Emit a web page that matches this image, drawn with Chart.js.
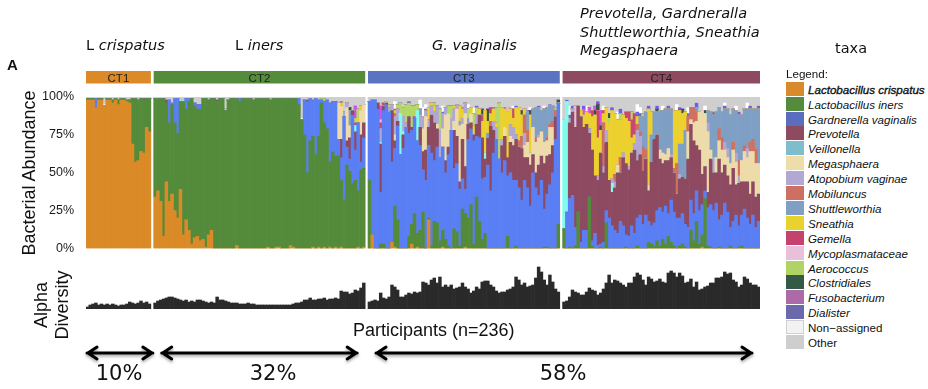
<!DOCTYPE html>
<html>
<head>
<meta charset="utf-8">
<script src="https://cdn.jsdelivr.net/npm/chart.js"></script>
<style>
  html, body { margin: 0; padding: 0; background: #fff; }
  #page { position: relative; width: 928px; height: 389px; overflow: hidden; background: #fff;
          font-family: 'Liberation Sans', Arial, sans-serif; color: #111; }
  canvas { position: absolute; left: 0; }
  .t { position: absolute; white-space: nowrap; }
  .vd { font-family: 'DejaVu Sans', Verdana, sans-serif; font-size: 14.5px; line-height: 14.5px; }
  .ar { font-family: 'Liberation Sans', Arial, sans-serif; font-size: 18px; line-height: 18px; }
  .rot { transform: translate(-50%, -50%) rotate(-90deg); text-align: center; }
  .pct { font-family: 'DejaVu Sans', Verdana, sans-serif; font-size: 21px; line-height: 21px; transform: translateX(-50%); }
  .lg { position: absolute; left: 786px; height: 15px; font-size: 11.6px; line-height: 15px; white-space: nowrap; }
  .lg span.sw { position: absolute; left: 0; top: 0; width: 18px; height: 14px; box-sizing: border-box; }
  .lg span.nm { position: absolute; left: 22px; top: 0; }
</style>
</head>
<body>
<div id="page">
  <canvas id="abundance" width="780" height="268" style="top:0"></canvas>
  <canvas id="alpha" width="780" height="134" style="top:255px"></canvas>

  <div class="t" style="left:7px;top:57px;font:bold 15px/15px 'Liberation Sans',Arial">A</div>
  <div class="t vd" style="left:86px;top:38px">L <i>crispatus</i></div>
  <div class="t vd" style="left:235px;top:38px">L <i>iners</i></div>
  <div class="t vd" style="left:432px;top:38px"><i>G. vaginalis</i></div>
  <div class="t vd" style="left:580px;top:6px"><i>Prevotella, Gardneralla</i></div>
  <div class="t vd" style="left:580px;top:25px"><i>Shuttleworthia, Sneathia</i></div>
  <div class="t vd" style="left:580px;top:43px"><i>Megasphaera</i></div>
  <div class="t vd" style="left:835px;top:41px">taxa</div>

  <div class="t ar rot" style="left:29px;top:173px">Bacterial Abundance</div>
  <div class="t ar rot" style="left:52px;top:305px;line-height:21px">Alpha<br>Diversity</div>
  <div class="t ar" style="left:353px;top:321px">Participants (n=236)</div>

  <div class="t pct" style="left:119px;top:363px">10%</div>
  <div class="t pct" style="left:273px;top:363px">32%</div>
  <div class="t pct" style="left:563px;top:363px">58%</div>

  <div class="t" style="left:786px;top:68px;font-size:11.6px;line-height:11.6px">Legend:</div>
  <div id="legend"></div>
</div>

<script>
// clusters (community types), left to right
const clusterNames = ['CT1', 'CT2', 'CT3', 'CT4'];
const clusterSizes = [23, 75, 68, 70];
const clusterColors = ['#DB8A27', '#548C3B', '#5B74C2', '#8E4A5F'];
const yTicks = [0, 25, 50, 75, 100];

// taxa, bottom of the stack first
const taxaNames = ['Lactobacillus crispatus', 'Lactobacillus iners', 'Gardnerella vaginalis', 'Prevotella',
  'Veillonella', 'Megasphaera', 'Atopobium vaginae', 'Mobiluncus', 'Shuttleworthia', 'Sneathia', 'Gemella',
  'Mycoplasmataceae', 'Aerococcus', 'Clostridiales', 'Fusobacterium', 'Dialister', 'Non\u2212assigned', 'Other'];
const barColors = ['#DA8A26', '#548B3B', '#5A7EF4', '#8E4A60', '#80FCEA', '#EEDBAA', '#B0A8D2', '#D0715F',
  '#7F9FC4', '#ECD12E', '#C84870', '#E7BCD9', '#B4D868', '#2E5744', '#D64FE9', '#6C5FE6', '#FFFFFF', '#CFCFCF'];
const legendColors = ['#D98A2A', '#538C3C', '#5A6DBE', '#8E4A5E', '#7FBDCC', '#EEDCAB', '#B1A9D3', '#CE6F63',
  '#7F9FC4', '#E9D130', '#C5426F', '#E9C0DA', '#B1D264', '#345947', '#AD6AA9', '#6C68AC', '#F2F2F2', '#CECECE'];

// relative abundance (%) per participant; rows: CT1 | CT2 | CT3 | CT4
const crispatus = [
  98,98,98,93,98,98,94,98,98,96, 98,95,98,98,97,96,69,57,58,64, 63,80,77,
  34,38,31,8,44,31,36,25,20,39, 9,19,12,3,7,8,5,6,1,9, 12,0,0,0,0,0,0,0,0,2, 0,0,0,0,0,0,0,0,0,0, 1,0,0,1,1,0,0,0,2,1, 0,0,0,0,0,0,1,0,1,0, 1,0,1,0,1,0,1,0,0,0, 0,0,1,0,1,
  0,9,0,0,0,0,0,0,4,1, 0,0,0,0,0,3,0,1,0,0, 0,19,0,0,0,0,1,0,0,0, 0,0,0,0,1,0,0,0,0,0, 0,0,0,0,0,0,0,0,0,0, 0,0,0,0,0,0,0,0,0,0, 0,0,0,0,0,0,0,0,
  0,0,0,0,0,0,0,0,0,0, 0,0,0,0,0,0,0,0,0,0, 0,0,0,0,0,0,0,0,0,0, 0,0,0,0,0,0,0,0,0,0, 0,0,0,0,0,0,0,0,0,1, 0,0,0,0,0,0,0,0,0,0, 0,0,0,0,0,0,0,0,0,0
];
const iners = [
  1,1,1,0,1,1,0,1,1,2, 1,3,1,1,1,2,30,42,40,35, 35,19,22,
  65,61,68,91,52,52,59,58,56,58, 88,73,85,96,87,84,87,93,98,89, 87,99,97,99,99,91,98,99,99,97, 97,99,99,99,99,98,99,99,99,99, 98,98,99,98,98,99,99,99,97,98, 99,95,85,75,50,71,73,62,73,96, 82,79,56,64,60,61,44,32,55,51, 43,45,37,52,52,
  45,0,0,0,3,3,0,0,0,27, 19,0,0,0,8,13,23,9,12,24, 0,1,2,18,17,5,11,6,2,0, 13,11,2,26,22,20,29,3,34,18, 6,10,0,0,0,0,0,0,0,8, 0,0,2,0,0,0,0,0,0,0, 0,0,1,1,0,0,0,16,
  13,0,1,0,2,24,0,0,0,34, 2,0,0,1,0,17,0,0,0,0, 0,0,1,0,0,0,2,0,0,0, 4,3,2,5,2,6,3,8,4,2, 0,2,3,1,0,12,5,18,3,8, 33,2,1,0,0,1,0,0,0,2, 0,0,1,2,0,0,0,0,0,0
];
const gardnerella = [
  0,0,0,6,0,0,0,0,0,0, 0,0,0,0,0,0,0,0,0,0, 0,0,0,
  0,0,0,0,0,15,1,16,23,0, 0,7,2,0,2,3,3,0,0,0, 0,0,0,0,0,0,0,0,0,0, 2,0,0,0,0,0,0,0,0,0, 0,0,0,0,0,0,0,0,0,0, 0,4,0,23,47,28,24,37,24,2, 14,19,39,33,36,11,15,55,12,8, 45,20,45,5,20,
  52,89,98,92,34,88,95,90,53,38, 62,62,66,80,68,62,63,61,56,28, 45,48,61,40,50,55,55,44,60,78, 40,45,37,20,16,52,50,68,40,55, 40,37,55,38,63,72,59,50,58,40, 50,45,43,40,32,45,40,28,50,40, 35,45,25,35,42,50,72,80,
  0,24,32,35,12,0,4,12,12,0, 3,10,2,2,4,8,20,15,12,10, 18,15,8,8,15,10,18,22,16,22, 14,12,15,20,25,18,25,15,28,22, 20,18,20,15,14,20,18,20,22,20, 5,25,28,25,30,18,22,30,24,12, 18,22,14,20,26,20,16,22,14,18
];
const prevotella = [
  0,0,0,0,0,0,0,0,0,0, 0,0,0,0,0,0,0,0,0,0, 1,0,0,
  0,0,0,0,2,0,0,0,0,0, 0,0,0,0,0,0,0,0,0,0, 0,0,1,0,0,0,0,0,0,0, 0,0,0,0,0,0,0,0,0,0, 0,0,0,0,0,0,0,0,0,0, 0,0,0,0,1,0,0,0,0,0, 0,0,0,0,0,0,12,0,4,14, 3,12,0,18,10,
  0,0,0,4,32,3,1,0,34,5, 3,0,9,0,11,2,0,0,12,12, 20,12,25,25,12,0,0,8,5,0, 25,18,5,26,15,10,4,4,8,15, 27,12,18,43,15,0,0,18,16,12, 20,23,27,27,34,15,20,27,12,10, 20,16,30,25,20,18,15,0,
  0,0,50,55,66,70,83,68,70,42, 60,38,43,60,46,45,25,22,28,40, 32,45,47,44,48,55,38,40,35,37, 20,42,55,50,32,32,30,35,28,26, 16,26,24,30,45,50,48,30,40,20, 16,10,30,25,20,40,28,25,24,28, 35,20,28,22,18,24,20,22,20,18
];
const veillonella = [
  0,0,0,0,0,0,0,0,0,0, 0,0,0,0,0,0,0,0,0,0, 0,0,0,
  0,0,0,0,0,0,0,0,0,0, 1,0,0,0,0,0,0,0,0,0, 0,0,0,0,0,0,0,0,0,0, 0,0,0,0,0,0,0,0,0,0, 0,0,0,0,0,0,0,0,0,0, 0,0,0,0,0,0,0,0,0,0, 0,0,0,0,0,0,0,0,0,0, 0,4,0,0,0,
  0,0,0,0,1,0,0,0,0,0, 0,27,2,0,0,0,0,20,0,0, 0,0,0,0,0,0,0,0,0,0, 0,0,0,0,0,0,0,0,0,0, 0,4,0,0,0,0,0,0,0,0, 0,0,0,0,0,0,0,0,0,0, 0,0,0,0,0,0,0,0,
  72,73,0,0,0,0,0,0,0,0, 0,0,0,0,0,0,0,6,0,0, 0,0,0,0,0,0,0,0,0,0, 0,0,0,0,0,0,0,0,0,0, 0,0,0,0,0,0,0,0,0,0, 0,0,0,0,0,0,0,0,0,0, 0,0,0,0,0,0,0,0,0,0
];
const megasphaera = [
  0,0,0,0,0,0,0,0,0,0, 0,0,0,0,0,0,0,0,0,0, 0,0,0,
  0,0,0,0,0,0,0,0,0,0, 0,0,0,0,0,0,0,0,0,0, 0,0,0,0,0,0,0,0,0,0, 0,0,0,0,0,0,0,0,0,0, 0,0,0,0,0,0,0,0,0,0, 0,0,0,0,0,0,0,0,0,0, 0,0,0,0,0,24,22,0,22,8, 0,0,0,16,12,
  0,0,0,0,0,0,0,0,0,4, 0,0,0,0,0,0,0,0,0,15, 22,0,0,0,3,0,12,30,22,0, 6,18,37,10,35,0,6,0,0,0, 0,0,0,0,0,0,0,0,6,0, 4,4,0,0,0,8,10,8,18,20, 18,16,14,10,18,12,0,0,
  0,0,0,0,0,0,0,0,0,0, 0,0,0,0,0,0,0,0,0,5, 0,0,0,0,0,0,0,0,0,0, 4,0,0,0,6,7,4,8,0,0, 0,0,0,0,18,3,12,16,25,42, 35,40,6,0,10,12,15,10,12,14, 12,15,0,14,20,16,28,20,22,20
];
const atopobium = [
  0,0,0,0,0,0,0,0,0,0, 0,0,0,0,0,0,0,0,0,0, 0,0,0,
  0,0,0,0,0,0,0,0,0,0, 0,0,0,0,0,0,0,0,0,0, 0,0,0,0,0,0,0,0,0,0, 0,0,0,0,0,0,0,0,0,0, 0,0,0,0,0,0,0,0,0,0, 0,0,0,0,0,0,0,0,0,0, 0,0,0,0,0,0,0,3,3,0, 0,0,0,0,0,
  0,0,0,0,9,0,0,3,4,12, 8,0,10,3,0,0,0,0,8,8, 4,5,6,7,12,18,10,5,0,8, 8,3,0,4,7,0,0,0,6,0, 0,0,0,0,6,8,0,4,0,0, 8,8,3,0,0,8,0,0,0,0, 2,0,0,0,0,0,0,0,
  0,0,3,2,0,0,0,0,0,3, 0,0,3,0,4,8,0,3,4,0, 0,3,0,2,0,4,20,12,0,0, 0,0,0,0,0,0,0,0,2,0, 0,3,0,0,0,0,0,0,0,0, 0,6,0,10,0,0,0,5,6,0, 0,6,5,0,0,6,0,0,0,0
];
const mobiluncus = [
  0,0,0,0,0,0,0,0,0,0, 0,0,0,0,0,0,0,0,0,0, 0,0,0,
  0,0,0,0,0,0,0,0,0,0, 0,0,0,0,0,0,0,0,0,0, 0,0,0,0,0,0,0,0,0,0, 0,0,0,0,0,0,0,0,0,0, 0,0,0,0,0,0,0,0,0,0, 0,0,0,0,0,0,0,0,0,0, 0,0,0,0,0,0,0,0,0,0, 0,0,0,0,0,
  0,0,0,0,0,0,0,0,0,2, 0,0,0,0,0,0,0,0,0,0, 0,0,0,0,0,0,0,0,0,0, 0,0,0,0,0,0,0,0,0,0, 0,0,0,3,0,0,0,0,0,0, 0,0,0,4,8,12,8,0,0,3, 0,0,0,2,2,4,4,0,
  0,0,0,0,0,0,0,0,0,0, 0,0,0,0,29,0,0,0,5,0, 10,0,0,0,0,0,4,3,16,6, 0,0,0,0,0,0,0,0,0,3, 20,0,0,0,10,8,10,6,0,0, 0,0,0,0,0,8,8,0,0,0, 5,0,10,0,4,0,6,8,10,0
];
const shuttleworthia = [
  0,0,0,0,0,0,0,0,0,0, 0,0,0,0,0,0,0,0,0,0, 0,0,0,
  0,0,0,0,0,0,0,0,0,0, 0,0,0,0,0,0,0,0,0,0, 0,0,0,0,0,0,0,0,0,0, 0,0,0,0,0,0,0,0,0,0, 0,0,0,0,0,0,0,0,0,0, 0,0,0,0,0,0,0,0,0,0, 0,0,0,0,0,0,0,0,0,10, 0,0,0,0,0,
  0,0,0,0,0,0,0,0,0,0, 0,0,0,0,0,0,0,0,4,0, 0,0,0,0,0,0,0,0,0,0, 0,0,3,0,0,4,0,0,0,0, 0,0,3,0,0,0,0,0,0,0, 0,0,0,0,0,0,12,0,12,20, 18,14,22,20,12,10,0,0,
  0,0,0,0,0,0,0,0,0,0, 0,0,0,0,0,0,0,0,0,0, 0,0,0,0,0,0,0,10,20,25, 0,18,18,15,26,28,30,26,30,0, 0,20,22,32,0,0,0,3,0,0, 0,8,25,28,30,14,17,22,26,32, 22,28,30,30,24,26,22,20,26,36
];
const sneathia = [
  0,0,0,0,0,0,0,0,0,0, 0,0,0,0,0,0,0,0,0,0, 0,0,0,
  0,0,0,0,0,0,0,0,0,0, 0,0,0,0,0,0,0,0,0,0, 0,0,0,0,0,0,0,0,0,0, 0,0,0,0,0,0,0,0,0,0, 0,0,0,0,0,0,0,0,0,0, 0,0,0,0,0,0,0,0,0,0, 0,0,0,0,0,0,2,0,0,0, 0,0,3,3,0,
  0,0,0,0,0,0,1,0,0,2, 0,0,0,0,0,0,0,0,0,0, 0,8,2,4,0,0,0,0,0,0, 2,0,10,6,0,0,4,6,0,4, 11,28,8,5,8,3,0,21,12,30, 10,6,18,22,14,4,0,25,0,0, 0,0,0,0,0,0,0,0,
  0,0,0,0,0,0,4,8,8,10, 22,40,25,15,6,15,37,45,40,30, 25,25,30,30,10,6,5,0,0,0, 50,15,0,0,0,0,0,0,0,38, 35,22,20,12,0,0,0,0,0,0, 0,0,0,0,0,0,0,0,0,0, 0,0,0,0,0,0,0,0,0,0
];
const gemella = [
  0,0,0,0,0,0,0,0,0,0, 0,0,0,0,0,0,0,0,0,0, 0,0,0,
  0,0,0,0,0,0,0,0,0,0, 0,0,0,0,0,0,0,0,0,0, 0,0,0,0,0,0,0,0,0,0, 0,0,0,0,0,0,0,0,0,0, 0,0,0,0,0,0,0,0,0,0, 0,0,0,0,0,0,0,0,0,0, 0,0,0,0,0,0,0,0,0,0, 0,2,0,0,0,
  0,0,0,0,4,2,0,0,0,0, 0,0,0,0,0,0,1,0,0,0, 0,0,0,0,0,0,0,0,0,0, 0,0,0,0,0,0,0,0,0,0, 4,0,0,4,0,0,0,0,0,0, 0,6,0,0,0,0,0,0,0,0, 0,0,0,0,0,0,0,0,
  0,0,0,0,0,0,0,0,0,0, 4,0,18,0,2,0,0,0,0,0, 0,0,4,6,12,14,0,0,0,0, 0,0,0,0,0,0,0,0,0,0, 0,0,0,0,0,0,0,0,0,0, 0,0,0,0,0,0,0,0,0,0, 0,0,0,0,0,0,0,0,0,0
];
const mycoplasma = [
  0,0,0,0,0,0,0,0,0,0, 0,0,0,0,0,0,0,0,0,0, 0,0,0,
  0,0,0,0,0,0,0,0,0,0, 0,0,0,0,0,0,0,0,0,0, 0,0,0,0,0,1,0,0,0,0, 0,0,0,0,0,0,0,0,0,0, 0,0,0,0,0,0,0,0,0,0, 0,0,0,0,0,0,0,0,0,0, 0,0,0,0,0,0,0,0,0,0, 0,0,0,0,0,
  0,0,0,0,2,0,0,0,0,0, 0,0,0,0,0,0,0,0,0,0, 0,0,0,0,0,0,0,0,0,0, 0,0,0,0,0,0,0,0,0,0, 0,0,0,0,0,0,0,0,0,3, 0,0,0,0,0,0,0,0,0,0, 0,0,0,0,0,0,0,0,
  0,0,0,0,14,0,0,0,0,0, 0,0,0,0,0,0,0,0,0,0, 0,0,0,0,0,0,0,0,0,0, 0,0,0,0,0,0,0,0,0,0, 0,0,0,0,0,0,0,0,0,0, 0,0,0,0,0,0,0,0,0,0, 0,0,0,0,0,0,0,0,0,0
];
const aerococcus = [
  0,0,0,0,0,0,0,0,0,0, 0,0,0,0,0,0,0,0,0,0, 0,0,0,
  0,0,0,0,0,0,0,0,0,0, 0,0,0,0,0,0,0,0,0,0, 0,0,0,0,0,0,0,0,0,0, 0,0,0,0,0,0,0,0,0,0, 0,0,0,0,0,0,0,0,0,0, 0,0,0,0,0,0,0,0,0,1, 2,0,0,0,0,0,0,0,0,0, 0,3,6,0,0,
  0,0,0,0,0,0,0,2,0,0, 3,7,6,12,9,14,7,4,0,0, 0,0,0,2,0,14,0,0,5,8, 0,0,0,0,0,6,0,8,5,0, 0,0,0,0,0,10,37,0,0,0, 0,0,0,0,0,0,0,0,0,0, 0,0,0,0,0,0,2,0,
  0,0,0,0,0,0,0,0,0,0, 0,0,0,0,0,0,4,0,0,0, 4,0,0,0,5,0,0,0,2,0, 0,0,0,0,0,0,0,0,0,0, 0,0,0,0,0,0,0,0,0,0, 0,0,0,0,0,0,0,0,0,0, 0,0,0,0,0,0,0,0,0,0
];
const clostridiales = [
  0,0,0,0,0,0,0,0,0,0, 0,0,0,0,0,0,0,0,0,0, 0,0,0,
  0,0,0,0,0,0,0,0,0,0, 0,0,0,0,0,0,0,0,0,0, 0,0,0,0,0,0,0,0,0,0, 0,0,0,0,0,0,0,0,0,0, 0,0,0,0,0,0,0,0,0,0, 0,0,0,0,0,0,0,0,0,0, 0,0,0,0,0,0,0,0,0,2, 0,0,0,0,0,
  0,0,0,0,0,0,0,0,0,0, 0,0,0,0,0,0,0,0,0,0, 0,0,0,0,0,0,0,0,0,0, 0,0,0,0,0,0,0,0,0,0, 4,0,8,0,0,0,0,0,0,0, 0,0,0,0,3,0,0,3,0,0, 0,0,0,0,0,0,0,2,
  0,0,0,0,0,0,0,0,0,0, 0,3,4,3,0,0,3,0,0,0, 0,0,0,0,0,0,0,0,0,0, 0,0,0,2,0,0,0,0,0,0, 0,0,3,0,0,0,0,0,0,0, 2,0,0,0,0,0,0,0,0,0, 0,0,0,0,0,0,0,0,0,0
];
const fusobacterium = [
  0,0,0,0,0,0,0,0,0,0, 0,0,0,0,0,0,0,0,0,0, 0,0,0,
  0,0,0,0,0,0,0,0,0,0, 0,0,0,0,0,0,0,0,0,0, 0,0,0,0,0,0,0,0,0,0, 0,0,0,0,0,0,0,0,0,0, 0,0,0,0,0,0,0,0,0,0, 0,0,0,0,0,0,0,0,0,0, 0,0,0,0,0,0,0,0,0,0, 0,8,0,0,0,
  0,0,0,0,9,0,0,0,0,0, 0,0,0,0,0,0,0,0,0,0, 0,0,0,0,0,0,0,0,0,0, 0,0,0,0,0,0,0,0,0,0, 0,0,0,0,0,0,0,0,0,0, 0,0,0,0,0,0,0,0,0,0, 0,0,0,0,0,0,0,0,
  0,0,0,0,0,0,0,4,0,4, 0,3,0,10,0,0,0,0,0,0, 0,0,0,0,0,0,0,0,0,0, 0,0,0,0,0,0,0,0,0,0, 0,0,0,0,0,0,0,0,0,0, 0,0,0,0,0,0,0,0,0,0, 0,0,0,0,0,0,0,0,0,0
];
const dialister = [
  0,0,0,0,0,0,0,0,0,0, 0,0,0,0,0,0,0,0,0,0, 0,0,0,
  0,0,0,0,0,0,0,0,0,0, 0,0,0,0,0,0,0,0,0,0, 0,0,0,0,0,0,0,0,0,0, 0,0,0,0,0,0,0,0,0,0, 0,0,0,0,0,0,0,0,0,0, 0,0,0,0,0,0,0,0,0,0, 0,0,0,0,0,0,1,0,0,0, 0,0,0,0,0,
  0,0,0,0,0,0,0,0,0,1, 0,0,0,0,1,0,0,0,0,0, 1,0,0,0,0,0,1,0,0,0, 0,0,0,1,0,0,0,0,1,0, 0,0,0,0,1,0,0,0,1,0, 0,0,1,0,0,0,1,0,0,0, 1,0,0,0,1,0,0,0,
  0,1,2,2,0,0,0,2,0,0, 0,0,2,0,0,0,0,2,0,0, 3,0,0,0,0,0,3,2,0,0, 2,0,0,2,0,0,0,2,0,0, 0,2,0,0,2,0,0,3,0,0, 0,0,0,2,0,0,0,2,0,0, 0,0,2,0,0,0,2,0,0,2
];
const nonAssigned = [
  0,0,0,0,0,0,1,0,0,0, 0,0,0,0,0,0,0,0,0,0, 0,0,0,
  0,0,0,0,0,0,0,0,0,0, 0,0,0,0,0,0,0,0,0,0, 0,0,0,0,0,0,0,0,0,0, 0,0,0,0,0,0,0,0,0,0, 0,0,0,0,0,0,0,0,0,0, 0,0,1,0,0,0,0,0,0,0, 0,0,0,0,0,0,0,0,0,0, 0,0,0,0,0,
  0,0,0,0,0,0,0,0,0,5, 0,0,0,0,0,0,0,0,6,6, 3,0,0,0,0,0,4,0,0,0, 0,0,0,0,0,3,0,4,0,0, 0,0,0,0,0,0,0,0,0,0, 0,2,0,0,0,0,0,2,0,0, 0,0,2,0,0,0,0,0,
  0,0,6,0,0,0,0,0,4,0, 0,0,0,0,3,0,0,0,0,5, 0,0,0,0,0,0,5,4,0,0, 0,0,0,0,0,3,0,0,0,0, 4,0,0,0,4,0,0,0,0,0, 3,0,0,0,0,0,0,2,0,0, 0,3,0,0,0,4,0,0,0,0
];

// alpha diversity per participant (arbitrary units, bar heights)
const alphaDiversity = [
  2,4,5,6,4,5,4,5,4,5, 4,3,4,4,5,7,6,5,6,8, 6,7,5,
  6,8,9,10,11,12,12,11,10,9, 8,9,7,8,7,9,9,8,7,6, 7,6,12,9,9,8,7,6,6,6, 5,5,5,6,5,5,4,4,4,4, 4,4,4,4,4,4,4,4,4,5, 6,6,7,9,9,11,9,9,10,10, 11,9,10,10,11,10,18,17,17,15, 16,19,18,21,26,
  7,8,9,8,16,11,10,12,24,22, 19,12,12,14,16,15,17,16,17,27, 26,24,29,31,26,32,22,24,22,24, 20,21,22,26,22,20,16,18,22,20, 27,28,28,24,22,18,16,17,17,19, 20,22,32,29,24,26,22,23,24,31, 42,37,29,24,34,27,20,17,
  7,8,12,19,17,16,14,14,17,21, 19,18,14,16,20,26,34,26,29,28, 26,24,22,26,26,32,36,34,29,24, 32,30,27,28,30,27,26,36,38,36, 32,36,33,26,27,30,22,27,19,20, 22,23,26,26,31,31,32,37,35,36, 29,27,22,24,32,30,26,24,24,22
];

const shareLabels = ['10%', '32%', '58%'];

// ---- build tables for the library ----
const measured = [crispatus, iners, gardnerella, prevotella, veillonella, megasphaera, atopobium, mobiluncus,
  shuttleworthia, sneathia, gemella, mycoplasma, aerococcus, clostridiales, fusobacterium, dialister, nonAssigned];
const total = clusterSizes.reduce((a, b) => a + b, 0);
measured.concat([alphaDiversity]).forEach((arr, i) => {
  if (arr.length !== total) throw new Error('series ' + i + ' has ' + arr.length + ' values, expected ' + total);
});

// remainder at the top of each bar is "Other"
const other = crispatus.map((_, p) => Math.max(0, 100 - measured.reduce((s, arr) => s + arr[p], 0)));
const series = measured.concat([other]);

const participants = [];
clusterSizes.forEach((n, c) => {
  for (let i = 0; i < n; i++) participants.push(clusterNames[c] + '-' + (i + 1));
});

// a blank slot between clusters
function withGaps(values) {
  const out = [];
  let k = 0;
  clusterSizes.forEach((n, c) => {
    if (c > 0) out.push(null);
    for (let i = 0; i < n; i++) out.push(values[k++]);
  });
  return out;
}
const labels = withGaps(participants).map(l => l || '');

function clusterRange(c) {
  let start = 0;
  for (let i = 0; i < c; i++) start += clusterSizes[i] + 1;
  return [start, start + clusterSizes[c] - 1];
}
function edges(x, c) {
  const half = (x.getPixelForValue(1) - x.getPixelForValue(0)) / 2;
  const [a, b] = clusterRange(c);
  return [x.getPixelForValue(a) - half, x.getPixelForValue(b) + half];
}

// ---- CT header strip ----
const clusterHeader = {
  id: 'clusterHeader',
  afterDraw(chart) {
    const { ctx, scales: { x } } = chart;
    ctx.save();
    clusterNames.forEach((name, c) => {
      const [l, r] = edges(x, c);
      ctx.fillStyle = clusterColors[c];
      ctx.fillRect(l, 71, r - l, 12.5);
      ctx.fillStyle = '#222';
      ctx.font = '11.5px "Liberation Sans", Arial, sans-serif';
      ctx.textAlign = 'center';
      ctx.textBaseline = 'alphabetic';
      ctx.fillText(name, (l + r) / 2, 81.5);
    });
    ctx.restore();
  }
};

new Chart(document.getElementById('abundance'), {
  type: 'bar',
  data: {
    labels: labels,
    datasets: series.map((vals, i) => ({
      label: taxaNames[i],
      data: withGaps(vals),
      backgroundColor: barColors[i],
      borderWidth: 0,
      barPercentage: 1,
      categoryPercentage: 1
    }))
  },
  options: {
    responsive: false,
    animation: false,
    devicePixelRatio: 1,
    layout: { padding: { top: 97, right: 20, bottom: 10, left: 0 } },
    plugins: { legend: { display: false }, tooltip: { enabled: false } },
    scales: {
      x: { stacked: true, display: false },
      y: {
        stacked: true, min: 0, max: 100,
        afterFit: s => { s.width = 86; },
        afterBuildTicks: s => { s.ticks = yTicks.map(v => ({ value: v })); },
        grid: { display: false, drawTicks: false },
        border: { display: false },
        ticks: {
          padding: 12, color: '#1a1a1a',
          font: { family: '"Liberation Sans", Arial, sans-serif', size: 12.5 },
          callback: v => v + '%'
        }
      }
    }
  },
  plugins: [clusterHeader]
});

// ---- arrows under the participants axis ----
const arrowSpans = [[0, 0, 1, -2], [1, 1, 8, 8], [2, 3, 8, 8]];
const shareArrows = {
  id: 'shareArrows',
  afterDraw(chart) {
    const { ctx, scales: { x } } = chart;
    const y = 98;
    ctx.save();
    ctx.strokeStyle = '#000';
    ctx.lineWidth = 3;
    ctx.lineCap = 'round';
    ctx.lineJoin = 'round';
    ctx.shadowColor = 'rgba(0,0,0,0.35)';
    ctx.shadowBlur = 3;
    ctx.shadowOffsetY = 2;
    arrowSpans.forEach(([c1, c2, in1, in2]) => {
      const x1 = edges(x, c1)[0] + in1;
      const x2 = edges(x, c2)[1] - in2;
      ctx.beginPath();
      ctx.moveTo(x1, y); ctx.lineTo(x2, y);
      ctx.moveTo(x1 + 10, y - 6); ctx.lineTo(x1 + 1, y); ctx.lineTo(x1 + 10, y + 6);
      ctx.moveTo(x2 - 10, y - 6); ctx.lineTo(x2 - 1, y); ctx.lineTo(x2 - 10, y + 6);
      ctx.stroke();
    });
    ctx.restore();
  }
};

new Chart(document.getElementById('alpha'), {
  type: 'bar',
  data: {
    labels: labels,
    datasets: [{
      label: 'Alpha Diversity',
      data: withGaps(alphaDiversity),
      backgroundColor: '#2A2A2A',
      borderWidth: 0,
      barPercentage: 1,
      categoryPercentage: 1
    }]
  },
  options: {
    responsive: false,
    animation: false,
    devicePixelRatio: 1,
    layout: { padding: { top: 8, right: 20, bottom: 80, left: 86 } },
    plugins: { legend: { display: false }, tooltip: { enabled: false } },
    scales: {
      x: { display: false },
      y: { display: false, min: 0, max: 46 }
    }
  },
  plugins: [shareArrows]
});

// ---- legend ----
const legendEl = document.getElementById('legend');
taxaNames.forEach((name, i) => {
  const row = document.createElement('div');
  row.className = 'lg';
  row.style.top = (81.7 + i * 14.9) + 'px';
  const italic = i < 16;
  const border = i === 16 ? 'border:1px solid #cfcfcf;' : '';
  const bold = i === 0 ? '-webkit-text-stroke:0.35px #111;' : '';
  row.innerHTML = `<span class="sw" style="background:${legendColors[i]};${border}"></span>` +
    `<span class="nm" style="${italic ? 'font-style:italic;' : ''}${bold}">${name}</span>`;
  legendEl.appendChild(row);
});
</script>
</body>
</html>
